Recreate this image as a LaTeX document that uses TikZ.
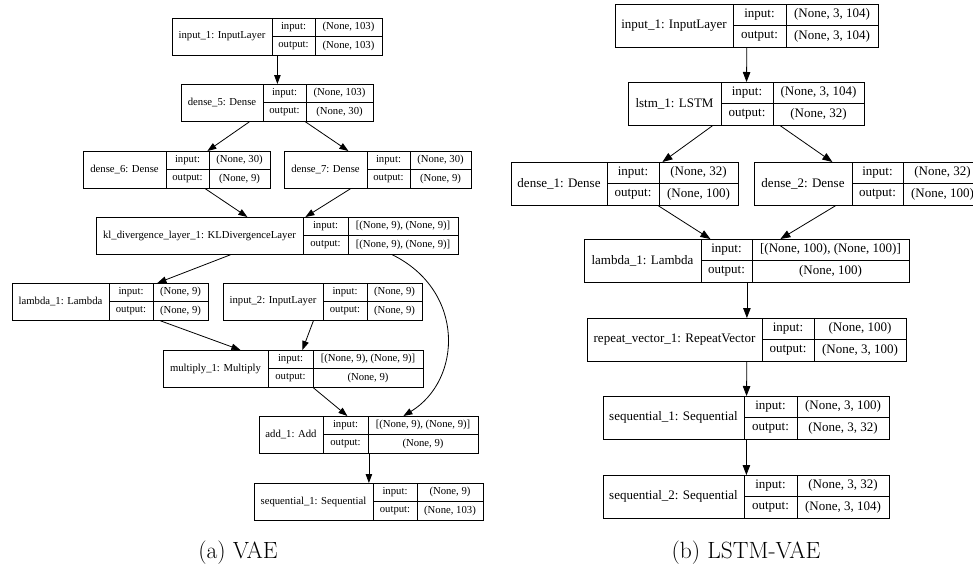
\documentclass[tikz,border=0pt]{standalone}
\usepackage{fontspec}
\newfontfamily\graphfont{Liberation Serif}
\usetikzlibrary{arrows.meta}
\tikzset{record/.style={ % outer box of one layer
            draw, line width=0.8pt, inner sep=0pt},
        cell/.style={ % inner dividers of a layer
            draw, line width=0.8pt},
        rectext/.style={ % text in a cell
            inner sep=0pt, font=\graphfont},
        edge/.style={ % connections between layers
            draw, line width=0.8pt,
            -{Triangle[length=9pt,width=6.5pt]}}
        }
% #1 name, #2 left, #3 top, #4 first divider, #5 second divider, #6 right,
% #7 layer, #8 input shape, #9 output shape
\newcommand{\layer}[9]{%
    \node[record, anchor=north west, minimum width={(#6-#2)*1pt},
          minimum height={\rowh*1pt}] (#1) at (#2,#3) {};
    \path[cell] (#4,#3) -- (#4,{#3+\rowh});
    \path[cell] (#5,#3) -- (#5,{#3+\rowh});
    \path[cell] (#4,{#3+\rowh/2}) -- (#6,{#3+\rowh/2});
    \node[rectext] at ({(#2+#4)/2},{#3+\rowh/2}) {#7};
    \node[rectext] at ({(#4+#5)/2},{#3+\rowh/4}) {input:};
    \node[rectext] at ({(#4+#5)/2},{#3+3*\rowh/4}) {output:};
    \node[rectext] at ({(#5+#6)/2},{#3+\rowh/4}) {#8};
    \node[rectext] at ({(#5+#6)/2},{#3+3*\rowh/4}) {#9};
}
\begin{document}
\begin{tikzpicture}[x=1pt, y=-1pt]
    \useasboundingbox (0,0) rectangle (973,570);
    \clip (0,0) rectangle (973,570);

    % (a) VAE
    \begin{scope}[rectext/.append style={font=\graphfont\fontsize{10.7}{12}\selectfont}]
        \def\rowh{37}
        \layer{vin1}{172}{18}{272}{315}{382}{input\_1: InputLayer}{(None, 103)}{(None, 103)}
        \layer{vd5}{181}{84}{263}{306}{373}{dense\_5: Dense}{(None, 103)}{(None, 30)}
        \layer{vd6}{83}{151}{166}{209}{270}{dense\_6: Dense}{(None, 30)}{(None, 9)}
        \layer{vd7}{284}{151}{367}{410}{471}{dense\_7: Dense}{(None, 30)}{(None, 9)}
        \layer{vkl}{96}{217}{303}{348}{458}{kl\_divergence\_layer\_1: KLDivergenceLayer}{[(None, 9), (None, 9)]}{[(None, 9), (None, 9)]}
        \layer{vlam}{12}{283}{109}{153}{208}{lambda\_1: Lambda}{(None, 9)}{(None, 9)}
        \layer{vin2}{223}{283}{323}{367}{422}{input\_2: InputLayer}{(None, 9)}{(None, 9)}
        \layer{vmul}{163}{350}{268}{313}{423}{multiply\_1: Multiply}{[(None, 9), (None, 9)]}{(None, 9)}
        \layer{vadd}{259}{416}{323}{368}{478}{add\_1: Add}{[(None, 9), (None, 9)]}{(None, 9)}
        \layer{vseq}{254}{483}{373}{417}{483}{sequential\_1: Sequential}{(None, 9)}{(None, 103)}

        \draw[edge] (vin1) -- (vd5);
        \draw[edge] ([xshift=-28pt]vd5.south) -- ([xshift=30.5pt]vd6.north);
        \draw[edge] ([xshift=28pt]vd5.south) -- ([xshift=-29.5pt]vd7.north);
        \draw[edge] ([xshift=28.5pt]vd6.south) -- ([xshift=-30pt]vkl.north);
        \draw[edge] ([xshift=-27.5pt]vd7.south) -- ([xshift=28pt]vkl.north);
        \draw[edge] ([xshift=-47pt]vkl.south) -- ([xshift=47pt]vlam.north);
        \draw[edge] ([xshift=115pt]vkl.south) .. controls +(73,36) and +(59,-36) .. ([xshift=34.5pt]vadd.north);
        \draw[edge] ([xshift=50pt]vlam.south) -- ([xshift=-53pt]vmul.north);
        \draw[edge] ([xshift=-9.5pt]vin2.south) -- ([xshift=9pt]vmul.north);
        \draw[edge] ([xshift=20pt]vmul.south) -- ([xshift=-21.5pt]vadd.north);
        \draw[edge] (vadd) -- (vseq);
    \end{scope}
    \node[font=\fontsize{23.5}{28}\selectfont, anchor=base] (capa) at (238,558) {(a) VAE};

    % (b) LSTM-VAE
    \begin{scope}[rectext/.append style={font=\graphfont\fontsize{13}{15}\selectfont},
                  edge/.append style={-{Triangle[length=10pt,width=7.5pt]}}]
        \def\rowh{43}
        \layer{lin1}{615}{4}{733}{786}{878}{input\_1: InputLayer}{(None, 3, 104)}{(None, 3, 104)}
        \layer{llstm}{628}{82}{721}{773}{864}{lstm\_1: LSTM}{(None, 3, 104)}{(None, 32)}
        \layer{ld1}{511}{162}{607}{659}{738}{dense\_1: Dense}{(None, 32)}{(None, 100)}
        \layer{ld2}{754}{162}{852}{903}{982}{dense\_2: Dense}{(None, 32)}{(None, 100)}
        \layer{llam}{584}{239}{701}{752}{909}{lambda\_1: Lambda}{[(None, 100), (None, 100)]}{(None, 100)}
        \layer{lrep}{587}{318}{762}{814}{906}{repeat\_vector\_1: RepeatVector}{(None, 100)}{(None, 3, 100)}
        \layer{lseq1}{603}{396}{744}{797}{889}{sequential\_1: Sequential}{(None, 3, 100)}{(None, 3, 32)}
        \layer{lseq2}{603}{475}{744}{797}{889}{sequential\_2: Sequential}{(None, 3, 32)}{(None, 3, 104)}

        \draw[edge] (lin1) -- (llstm);
        \draw[edge] ([xshift=-34pt]llstm.south) -- ([xshift=37.5pt]ld1.north);
        \draw[edge] ([xshift=34pt]llstm.south) -- ([xshift=-36pt]ld2.north);
        \draw[edge] ([xshift=33.5pt]ld1.south) -- ([xshift=-36.5pt]llam.north);
        \draw[edge] ([xshift=-33pt]ld2.south) -- ([xshift=33.5pt]llam.north);
        \draw[edge] (llam) -- (lrep);
        \draw[edge] (lrep) -- (lseq1);
        \draw[edge] (lseq1) -- (lseq2);
    \end{scope}
    \node[font=\fontsize{23.5}{28}\selectfont, anchor=base] (capb) at (746,558) {(b) LSTM-VAE};
\end{tikzpicture}
\end{document}
